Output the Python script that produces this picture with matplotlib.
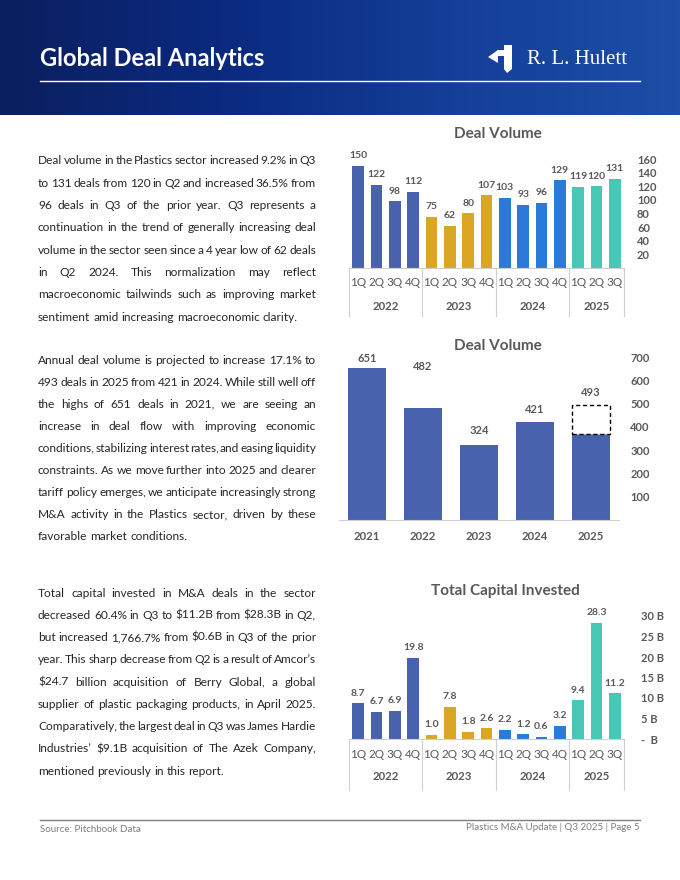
import numpy as np
import matplotlib
matplotlib.use("Agg")
import matplotlib.pyplot as plt
from matplotlib.patches import Polygon
from matplotlib.colors import LinearSegmentedColormap

W, H = 680, 880
FONT = "Lato"
GRAY = "#595959"
TEXT = "#262626"
plt.rcParams["font.family"] = [FONT, "DejaVu Sans"]

# ---- data ----
quarters = ["1Q", "2Q", "3Q", "4Q"] * 3 + ["1Q", "2Q", "3Q"]
quarter_years = ["2022"] * 4 + ["2023"] * 4 + ["2024"] * 4 + ["2025"] * 3
group_years = ["2022", "2023", "2024", "2025"]
deal_volume_q = [150, 122, 98, 112, 75, 62, 80, 107, 103, 93, 96, 129, 119, 120, 131]
capital_q = [8.7, 6.7, 6.9, 19.8, 1.0, 7.8, 1.8, 2.6, 2.2, 1.2, 0.6, 3.2, 9.4, 28.3, 11.2]

annual_years = ["2021", "2022", "2023", "2024", "2025"]
annual_volume = [651, 482, 324, 421, 370]   # 2025 = YTD actual
projected_2025 = 493

vol_ticks = [20, 40, 60, 80, 100, 120, 140, 160]
annual_ticks = [100, 200, 300, 400, 500, 600, 700]
cap_ticks = [0, 5, 10, 15, 20, 25, 30]

year_colors = {"2022": "#4862ae", "2023": "#dba624", "2024": "#2a7bd9", "2025": "#48c6b6"}

para1 = [
    "Deal volume in the Plastics sector increased 9.2% in Q3",
    "to 131 deals from 120 in Q2 and increased 36.5% from",
    "96 deals in Q3 of the prior year. Q3 represents a",
    "continuation in the trend of generally increasing deal",
    "volume in the sector seen since a 4 year low of 62 deals",
    "in Q2 2024. This normalization may reflect",
    "macroeconomic tailwinds such as improving market",
    "sentiment amid increasing macroeconomic clarity.",
]
para2 = [
    "Annual deal volume is projected to increase 17.1% to",
    "493 deals in 2025 from 421 in 2024. While still well off",
    "the highs of 651 deals in 2021, we are seeing an",
    "increase in deal flow with improving economic",
    "conditions, stabilizing interest rates, and easing liquidity",
    "constraints. As we move further into 2025 and clearer",
    "tariff policy emerges, we anticipate increasingly strong",
    "M&A activity in the Plastics sector, driven by these",
    "favorable market conditions.",
]
para3 = [
    "Total capital invested in M&A deals in the sector",
    "decreased 60.4% in Q3 to $11.2B from $28.3B in Q2,",
    "but increased 1,766.7% from $0.6B in Q3 of the prior",
    "year. This sharp decrease from Q2 is a result of Amcor\u2019s",
    "$24.7 billion acquisition of Berry Global, a global",
    "supplier of plastic packaging products, in April 2025.",
    "Comparatively, the largest deal in Q3 was James Hardie",
    "Industries\u2019 $9.1B acquisition of The Azek Company,",
    "mentioned previously in this report.",
]

fig = plt.figure(figsize=(W / 100, H / 100), dpi=100)
fig.patch.set_facecolor("white")


def px_axes(x0, y0, x1, y1):
    return fig.add_axes([x0 / W, 1 - y1 / H, (x1 - x0) / W, (y1 - y0) / H])


def fy(y):
    return 1 - y / H


# ---- header ----
hax = px_axes(0, 0, W, 115)
cmap = LinearSegmentedColormap.from_list("hdr", ["#0b1f5e", "#0a2a80", "#143f98", "#1c4ea6"])
grad = np.tile(np.linspace(0, 1, 300), (20, 1))
hax.imshow(grad, cmap=cmap, aspect="auto", extent=[0, W, 115, 0])
hax.set_xlim(0, W)
hax.set_ylim(115, 0)
hax.axis("off")
hax.text(40, 58, "Global Deal Analytics", color="white", fontsize=17,
         fontweight="bold", va="center", ha="left")
hax.plot([40, 640], [81, 81], color="white", lw=1)
# logo mark
hax.add_patch(Polygon([(504, 45), (512, 45), (512, 69), (507, 73), (504, 69)],
                      closed=True, color="white", lw=0))
hax.add_patch(Polygon([(497, 50), (504, 50), (504, 56), (497, 56)],
                      closed=True, color="white", lw=0))
hax.add_patch(Polygon([(488, 57), (498, 50), (498, 63)],
                      closed=True, color="white", lw=0))
hax.text(527, 60, "R. L. Hulett", color="white", fontsize=15,
         family="Liberation Serif", va="center", ha="left")


# ---- body text ----
def justified(lines, x0, x1, y0, step, size=8.6):
    r = fig.canvas.get_renderer()
    for k, line in enumerate(lines):
        words = line.split()
        ybase = fy(y0 + k * step + 3.5)
        ts = [fig.text(0, ybase, w, fontsize=size, color=TEXT,
                       va="baseline", ha="left", parse_math=False) for w in words]
        widths = [t.get_window_extent(r).width for t in ts]
        if k == len(lines) - 1 or len(words) == 1:
            gap = size * 100 / 72 * 0.25
        else:
            gap = (x1 - x0 - sum(widths)) / (len(words) - 1)
        x = x0
        for t, w in zip(ts, widths):
            t.set_x(x / W)
            x += w + gap


justified(para1, 38, 316, 161, 22.3)
justified(para2, 38, 316, 360, 22.1)
justified(para3, 38, 316, 593, 22.25)


# ---- quarterly charts ----
def quarterly(ax, values, ymax, ticks, tick_labels, fmt, ax_h, q_off, y_off, sep_depth, pad):
    x = np.arange(len(values))
    colors = [year_colors[y] for y in quarter_years]
    bars = ax.bar(x, values, width=0.65, color=colors)
    ax.bar_label(bars, labels=[fmt(v) for v in values], padding=4, fontsize=7.5,
                 fontweight="bold", color=GRAY)
    ax.set_xlim(-0.5, len(values) - 0.5)
    ax.set_ylim(0, ymax)
    for s in ["top", "left", "right"]:
        ax.spines[s].set_visible(False)
    ax.spines["bottom"].set_color("#d0d0d0")
    ax.set_xticks([])
    ax.yaxis.tick_right()
    ax.set_yticks(ticks)
    ax.set_yticklabels(tick_labels)
    ax.tick_params(axis="y", length=0, pad=pad, labelsize=8, labelcolor=GRAY)
    for lab in ax.get_yticklabels():
        lab.set_fontweight("bold")
    for i, q in enumerate(quarters):
        ax.annotate(q, xy=(i, 0), xycoords=("data", "axes fraction"),
                    xytext=(0, -q_off * 0.72), textcoords="offset points",
                    ha="center", va="center", fontsize=8.5, color=GRAY)
    start = 0
    bounds = [-0.5]
    for yr in group_years:
        n = quarter_years.count(yr)
        mid = start + (n - 1) / 2
        ax.annotate(yr, xy=(mid, 0), xycoords=("data", "axes fraction"),
                    xytext=(0, -y_off * 0.72), textcoords="offset points",
                    ha="center", va="center", fontsize=8.2, fontweight="bold", color=GRAY)
        start += n
        bounds.append(start - 0.5)
    for b in bounds:
        ax.plot([b, b], [0, -sep_depth / ax_h], transform=ax.get_xaxis_transform(),
                clip_on=False, color="#d0d0d0", lw=0.8)


ax1 = px_axes(349, 159, 624, 268)
quarterly(ax1, deal_volume_q, 160, vol_ticks, [str(t) for t in vol_ticks],
          lambda v: f"{v:d}", 109, 15, 39, 48, 9.4)
fig.text(498 / W, fy(134), "Deal Volume", ha="center", va="center",
         fontsize=11, fontweight="bold", color=GRAY)

ax3 = px_axes(349, 616, 624, 739)
quarterly(ax3, capital_q, 30, cap_ticks,
          [f"{t} B" if t else "-  B" for t in cap_ticks],
          lambda v: f"{v:.1f}", 123, 15, 38, 51, 12)
fig.text(505 / W, fy(591), "Total Capital Invested", ha="center", va="center",
         fontsize=11, fontweight="bold", color=GRAY)

# ---- annual chart ----
ax2 = px_axes(339, 357, 619, 520)
xa = np.arange(len(annual_years))
label_pad = [3, 26, 6, 5, 5]
bars = ax2.bar(xa, annual_volume, width=0.68, color=year_colors["2022"])
ax2.bar(xa[-1], projected_2025 - annual_volume[-1], bottom=annual_volume[-1], width=0.68,
        facecolor="white", edgecolor="black", linestyle=(0, (3, 2)), lw=1)
shown = annual_volume[:-1] + [projected_2025]
for i, v in enumerate(shown):
    ax2.annotate(str(v), xy=(i, v), xytext=(0, label_pad[i]), textcoords="offset points",
                 ha="center", va="bottom", fontsize=8, fontweight="bold", color=GRAY)
ax2.set_xlim(-0.5, len(annual_years) - 0.5)
ax2.set_ylim(0, 700)
for s in ["top", "left", "right"]:
    ax2.spines[s].set_visible(False)
ax2.spines["bottom"].set_color("#d0d0d0")
ax2.set_xticks(xa)
ax2.set_xticklabels(annual_years, fontweight="bold")
ax2.tick_params(axis="x", length=0, pad=8, labelsize=8.2, labelcolor=GRAY)
ax2.yaxis.tick_right()
ax2.set_yticks(annual_ticks)
ax2.tick_params(axis="y", length=0, pad=8, labelsize=8, labelcolor=GRAY)
for lab in ax2.get_yticklabels():
    lab.set_fontweight("bold")
fig.text(498 / W, fy(346), "Deal Volume", ha="center", va="center",
         fontsize=11, fontweight="bold", color=GRAY)

# ---- footer ----
fig.add_artist(plt.Line2D([40 / W, 640 / W], [fy(820), fy(820)], color="#7f7f7f", lw=1))
fig.text(40 / W, fy(829), "Source: Pitchbook Data", ha="left", va="center",
         fontsize=7, color="#7f7f7f")
fig.text(640 / W, fy(827), "Plastics M&A Update | Q3 2025 | Page 5", ha="right",
         va="center", fontsize=7, color="#7f7f7f")

fig.savefig("out.png", dpi=100)
